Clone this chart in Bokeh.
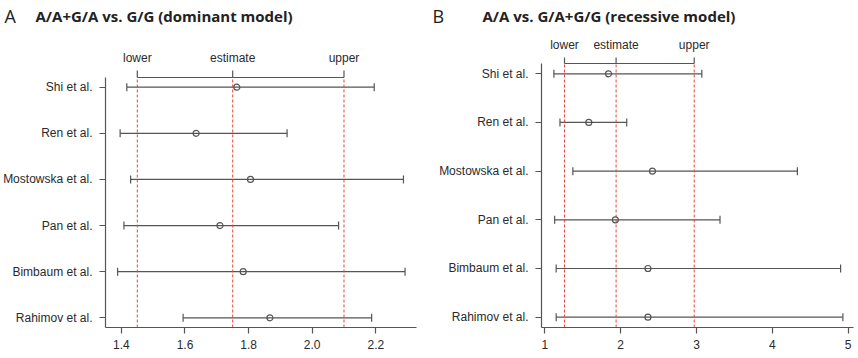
from bokeh.plotting import figure
from bokeh.layouts import row, column
from bokeh.models import (ColumnDataSource, Whisker, TeeHead, FixedTicker,
                          NumeralTickFormatter, Range1d)
from bokeh.embed import file_html
from bokeh.resources import INLINE
from bokeh.core.properties import value

# Studies, listed top to bottom
studies = ["Shi et al.", "Ren et al.", "Mostowska et al.", "Pan et al.",
           "Bimbaum et al.", "Rahimov et al."]

# Dominant model: A/A+G/A vs. G/G
dom_est = [1.763, 1.635, 1.806, 1.710, 1.783, 1.867]
dom_lower = [1.417, 1.396, 1.429, 1.408, 1.388, 1.594]
dom_upper = [2.195, 1.921, 2.287, 2.083, 2.292, 2.187]
dom_summary = [1.45, 1.75, 2.10]
dom_ticks = [1.4, 1.6, 1.8, 2.0, 2.2]

# Recessive model: A/A vs. G/A+G/G
rec_est = [1.84, 1.58, 2.42, 1.93, 2.36, 2.36]
rec_lower = [1.12, 1.20, 1.37, 1.13, 1.15, 1.15]
rec_upper = [3.07, 2.08, 4.33, 3.31, 4.90, 4.93]
rec_summary = [1.26, 1.94, 2.97]
rec_ticks = [1, 2, 3, 4, 5]

summary_labels = ["lower", "estimate", "upper"]

panel_letters = ["A", "B"]
panel_titles = ["A/A+G/A vs. G/G (dominant model)",
                "A/A vs. G/A+G/G (recessive model)"]

LINE = "#555555"
TEXT = "#2a2a2a"
RED = "#e8443a"
FONT = "Liberation Sans"
TITLE_FONT = "Open Sans"
HEADER_H = 30


def header():
    """Strip across the top holding the panel letters and headings."""
    h = figure(width=858, height=HEADER_H, output_backend="svg",
               toolbar_location=None, x_range=Range1d(0, 858),
               y_range=Range1d(HEADER_H, 0), min_border=0)
    h.axis.visible = False
    h.grid.visible = False
    h.outline_line_color = None
    h.text(x=[4, 432], y=[15, 15], text=panel_letters,
           text_font=value(TITLE_FONT), text_font_size="18px",
           text_baseline="middle", text_color="#222222")
    h.text(x=[35, 482], y=[15, 15], text=panel_titles,
           text_font=value(TITLE_FONT), text_font_size="15px",
           text_font_style="bold", text_baseline="middle",
           text_color="#222222")
    return h


def forest(est, lower, upper, summary, ticks, fmt, width, left, right, xr,
           yr, bracket_py, tick_top_py, label_py, height=358 - HEADER_H,
           bottom=31):
    frame_h = height - bottom

    def yd(py):
        # py is measured from the top of the page
        return yr[1] - (py - HEADER_H) / frame_h * (yr[1] - yr[0])

    p = figure(width=width, height=height, output_backend="svg",
               toolbar_location=None, x_range=Range1d(*xr),
               y_range=Range1d(*yr), min_border_left=left,
               min_border_right=right, min_border_top=0,
               min_border_bottom=bottom)
    p.outline_line_color = None
    p.grid.visible = False

    ys = list(range(len(studies), 0, -1))
    src = ColumnDataSource(dict(y=ys, est=est, lo=lower, hi=upper))

    bracket_y = yd(bracket_py)
    tick_top = yd(tick_top_py)

    # summary reference lines
    p.segment(x0=summary, y0=[yr[0]] * 3, x1=summary, y1=[bracket_y] * 3,
              line_color=RED, line_dash="3 2", line_width=1)

    # bracket over the summary lines
    p.segment(x0=[summary[0]], y0=[bracket_y], x1=[summary[2]],
              y1=[bracket_y], line_color=LINE, line_width=1.2)
    p.segment(x0=summary, y0=[bracket_y] * 3, x1=summary,
              y1=[tick_top] * 3, line_color=LINE, line_width=1.2)
    p.text(x=summary, y=[yd(label_py)] * 3, text=summary_labels,
           text_align="center", text_baseline="middle",
           text_font=value(FONT), text_font_size="12px", text_color=TEXT)

    # confidence intervals and point estimates
    wh = Whisker(source=src, base="y", lower="lo", upper="hi",
                 dimension="width", line_color=LINE, line_width=1.2,
                 upper_head=TeeHead(size=8, line_color=LINE, line_width=1.2),
                 lower_head=TeeHead(size=8, line_color=LINE, line_width=1.2))
    p.add_layout(wh)
    p.scatter(x="est", y="y", source=src, marker="circle", size=6,
              fill_color=None, line_color=LINE, line_width=1.2)

    # axes
    p.xaxis.ticker = FixedTicker(ticks=ticks)
    p.xaxis.formatter = NumeralTickFormatter(format=fmt)
    p.yaxis.ticker = FixedTicker(ticks=ys)
    p.yaxis.major_label_overrides = {y: s for y, s in zip(ys, studies)}
    p.yaxis.bounds = (yr[0], bracket_y)
    for ax in (p.xaxis, p.yaxis):
        ax.axis_line_color = LINE
        ax.axis_line_width = 1.2
        ax.major_tick_line_color = LINE
        ax.major_tick_line_width = 1.2
        ax.major_tick_in = 0
        ax.major_tick_out = 6
        ax.minor_tick_line_color = None
        ax.major_label_text_font = FONT
        ax.major_label_text_font_size = "12px"
        ax.major_label_text_color = TEXT
    p.xaxis.major_label_standoff = 6
    p.yaxis.major_label_standoff = 7
    return p


pa = forest(dom_est, dom_lower, dom_upper, dom_summary, dom_ticks, "0.0",
            width=430, left=103, right=14, xr=(1.35, 2.328),
            yr=(0.79, 7.229), bracket_py=77, tick_top_py=70, label_py=57)

pb = forest(rec_est, rec_lower, rec_upper, rec_summary, rec_ticks, "0",
            width=428, left=111, right=5, xr=(0.9565, 5.07),
            yr=(0.788, 6.889), bracket_py=63, tick_top_py=57, label_py=44)

layout = column(header(), row(pa, pb))
open("out.html", "w").write(file_html(layout, INLINE))
